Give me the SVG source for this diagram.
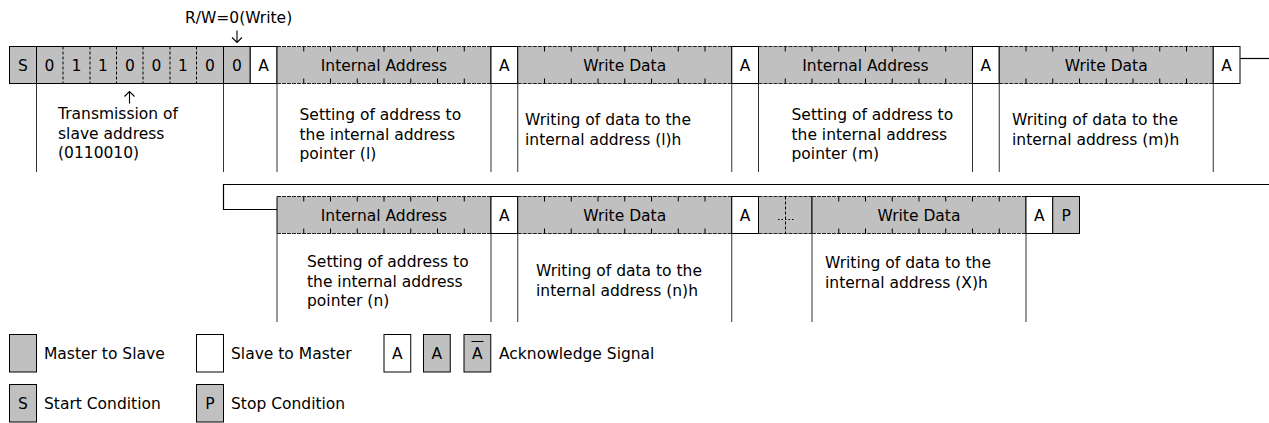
<svg xmlns="http://www.w3.org/2000/svg" width="1269" height="423" viewBox="0 0 1269 423">
<style>
  text { font-family: "DejaVu Sans", "Liberation Sans", sans-serif; font-size: 15.5px; fill: #000; }
  .c { text-anchor: middle; }
  .g { fill: #c0c0c0; stroke: #000; stroke-width: 1; }
  .w { fill: #fff; stroke: #000; stroke-width: 1; }
  .gd { fill: #c0c0c0; stroke: none; }
  .dash { stroke: #000; stroke-width: 1; stroke-dasharray: 3 2; fill: none; }
  .fine { stroke: #222; stroke-width: 1; stroke-dasharray: 4 1; fill: none; }
  .solid { stroke: #000; stroke-width: 1; fill: none; }
  .tick { stroke: #000; stroke-width: 1; fill: none; }
  .vl { stroke: #333; stroke-width: 1; fill: none; }
  .conn { stroke: #000; stroke-width: 1.2; fill: none; }
  .arr { stroke: #000; stroke-width: 1.1; fill: none; }
</style>
<defs>
  <!-- 8-bit field: width 214, height 37 -->
  <g id="field8">
    <rect class="gd" x="0" y="0" width="214" height="37"/>
    <path class="fine" d="M0 0H214M0 37H214"/>
    <path class="solid" d="M0 0V37M214 0V37"/>
    <path class="tick" d="M26.75 0v5M53.5 0v5M80.25 0v5M107 0v5M133.75 0v5M160.5 0v5M187.25 0v5M26.75 37v-5M53.5 37v-5M80.25 37v-5M107 37v-5M133.75 37v-5M160.5 37v-5M187.25 37v-5"/>
  </g>
</defs>

<text x="185" y="22.5">R/W=0(Write)</text>
<path class="arr" d="M237 30.5V42.5M232 37.5L237 42.5L242 37.5"/>

<!-- Row 1 -->
<g id="start">
  <rect class="g" x="9.5" y="46.5" width="27" height="37"/>
  <text class="c" x="23" y="70.5">S</text>
</g>
<g id="slave-address">
  <rect class="gd" x="36.5" y="46.5" width="187" height="37"/>
  <path class="solid" d="M36.5 46.5H223.5M36.5 83.5H223.5M36.5 46.5V83.5M223.5 46.5V83.5"/>
  <path class="dash" d="M63 46.5V83.5M90 46.5V83.5M116.5 46.5V83.5M143 46.5V83.5M170 46.5V83.5M196.5 46.5V83.5"/>
  <text class="c" x="49.5" y="70.5">0</text>
  <text class="c" x="76.5" y="70.5">1</text>
  <text class="c" x="103" y="70.5">1</text>
  <text class="c" x="130" y="70.5">0</text>
  <text class="c" x="156.5" y="70.5">0</text>
  <text class="c" x="183" y="70.5">1</text>
  <text class="c" x="210" y="70.5">0</text>
  <path class="arr" d="M129.5 91.5V103.5M124.5 96.5L129.5 91.5L134.5 96.5"/>
  <text x="58" y="119">Transmission of</text>
  <text x="58" y="138.5">slave address</text>
  <text x="58" y="158">(0110010)</text>
</g>
<g id="rw-bit">
  <rect class="g" x="223.5" y="46.5" width="26.75" height="37"/>
  <text class="c" x="237" y="70.5">0</text>
</g>
<g id="ack1">
  <rect class="w" x="250.25" y="46.5" width="26.75" height="37"/>
  <text class="c" x="263.5" y="70.5">A</text>
</g>
<g id="internal-address-l">
  <use href="#field8" x="277" y="46.5"/>
  <text class="c" x="384" y="70.5">Internal Address</text>
  <text x="299.5" y="120">Setting of address to</text>
  <text x="299.5" y="139.5">the internal address</text>
  <text x="299.5" y="159">pointer (l)</text>
</g>
<g id="ack2">
  <rect class="w" x="491" y="46.5" width="26.75" height="37"/>
  <text class="c" x="504.4" y="70.5">A</text>
</g>
<g id="write-data-l">
  <use href="#field8" x="517.75" y="46.5"/>
  <text class="c" x="624.75" y="70.5">Write Data</text>
  <text x="525" y="125">Writing of data to the</text>
  <text x="525" y="144.5">internal address (l)h</text>
</g>
<g id="ack3">
  <rect class="w" x="731.75" y="46.5" width="26.75" height="37"/>
  <text class="c" x="745.1" y="70.5">A</text>
</g>
<g id="internal-address-m">
  <use href="#field8" x="758.5" y="46.5"/>
  <text class="c" x="865.5" y="70.5">Internal Address</text>
  <text x="791.5" y="120">Setting of address to</text>
  <text x="791.5" y="139.5">the internal address</text>
  <text x="791.5" y="159">pointer (m)</text>
</g>
<g id="ack4">
  <rect class="w" x="972.5" y="46.5" width="26.75" height="37"/>
  <text class="c" x="985.9" y="70.5">A</text>
</g>
<g id="write-data-m">
  <use href="#field8" x="999.25" y="46.5"/>
  <text class="c" x="1106.25" y="70.5">Write Data</text>
  <text x="1012" y="125">Writing of data to the</text>
  <text x="1012" y="144.5">internal address (m)h</text>
</g>
<g id="ack5">
  <rect class="w" x="1213.25" y="46.5" width="26.75" height="37"/>
  <text class="c" x="1226.6" y="70.5">A</text>
</g>

<!-- Row 2 -->
<g id="internal-address-n">
  <use href="#field8" x="277" y="196.5"/>
  <text class="c" x="384" y="220.5">Internal Address</text>
  <text x="307" y="267">Setting of address to</text>
  <text x="307" y="286.5">the internal address</text>
  <text x="307" y="306">pointer (n)</text>
</g>
<g id="ack6">
  <rect class="w" x="491" y="196.5" width="26.75" height="37"/>
  <text class="c" x="504.4" y="220.5">A</text>
</g>
<g id="write-data-n">
  <use href="#field8" x="517.75" y="196.5"/>
  <text class="c" x="624.75" y="220.5">Write Data</text>
  <text x="536" y="276">Writing of data to the</text>
  <text x="536" y="295.5">internal address (n)h</text>
</g>
<g id="ack7">
  <rect class="w" x="731.75" y="196.5" width="26.75" height="37"/>
  <text class="c" x="745.1" y="220.5">A</text>
</g>
<g id="ellipsis">
  <rect class="gd" x="758.5" y="196.5" width="53.5" height="37"/>
  <path class="fine" d="M758.5 196.5H812M758.5 233.5H812"/>
  <path class="solid" d="M758.5 196.5V233.5M812 196.5V233.5"/>
  <path class="dash" d="M785.5 196.5V233.5"/>
  <path d="M778 219.5H794" stroke="#000" stroke-width="1" stroke-dasharray="1.5 2" fill="none"/>
</g>
<g id="write-data-x">
  <use href="#field8" x="812" y="196.5"/>
  <text class="c" x="919" y="220.5">Write Data</text>
  <text x="825" y="268">Writing of data to the</text>
  <text x="825" y="287.5">internal address (X)h</text>
</g>
<g id="ack8">
  <rect class="w" x="1026" y="196.5" width="26.75" height="37"/>
  <text class="c" x="1039.4" y="220.5">A</text>
</g>
<g id="stop">
  <rect class="g" x="1052.75" y="196.5" width="26.75" height="37"/>
  <text class="c" x="1066.1" y="220.5">P</text>
</g>

<!-- Connectors and bracket lines -->
<g id="connectors">
  <path class="vl" d="M36.5 83.5V172M223.5 83.5V172M277 83.5V172M491 83.5V172M517.75 83.5V172M731.75 83.5V172M758.5 83.5V172M972.5 83.5V172M999.25 83.5V172M1213.25 83.5V172"/>
  <path class="vl" d="M277 233.5V322M491 233.5V322M517.75 233.5V322M731.75 233.5V322M812 233.5V322M1026 233.5V322"/>
  <path class="conn" d="M1240 58.5H1269"/>
  <path class="conn" d="M1269 184.5H223.5V209.5H277"/>
</g>

<!-- Legend -->
<g id="legend-master">
  <rect class="g" x="9.5" y="334.5" width="27" height="37.5"/>
  <text x="44" y="359">Master to Slave</text>
</g>
<g id="legend-slave">
  <rect class="w" x="196.5" y="334.5" width="27" height="37.5"/>
  <text x="231" y="359">Slave to Master</text>
</g>
<g id="legend-ack">
  <rect class="w" x="384" y="334.5" width="26.75" height="37.5"/>
  <text class="c" x="397.4" y="359">A</text>
  <rect class="g" x="423.5" y="334.5" width="26.75" height="37.5"/>
  <text class="c" x="436.9" y="359">A</text>
  <rect class="g" x="464" y="334.5" width="26.75" height="37.5"/>
  <text class="c" x="477.4" y="359">A</text>
  <path class="solid" d="M471.5 341.5H483.5"/>
  <text x="499" y="359">Acknowledge Signal</text>
</g>
<g id="legend-start">
  <rect class="g" x="9.5" y="384.5" width="27" height="37.5"/>
  <text class="c" x="23" y="409">S</text>
  <text x="44" y="409">Start Condition</text>
</g>
<g id="legend-stop">
  <rect class="g" x="196.5" y="384.5" width="27" height="37.5"/>
  <text class="c" x="210" y="409">P</text>
  <text x="231" y="409">Stop Condition</text>
</g>
</svg>
